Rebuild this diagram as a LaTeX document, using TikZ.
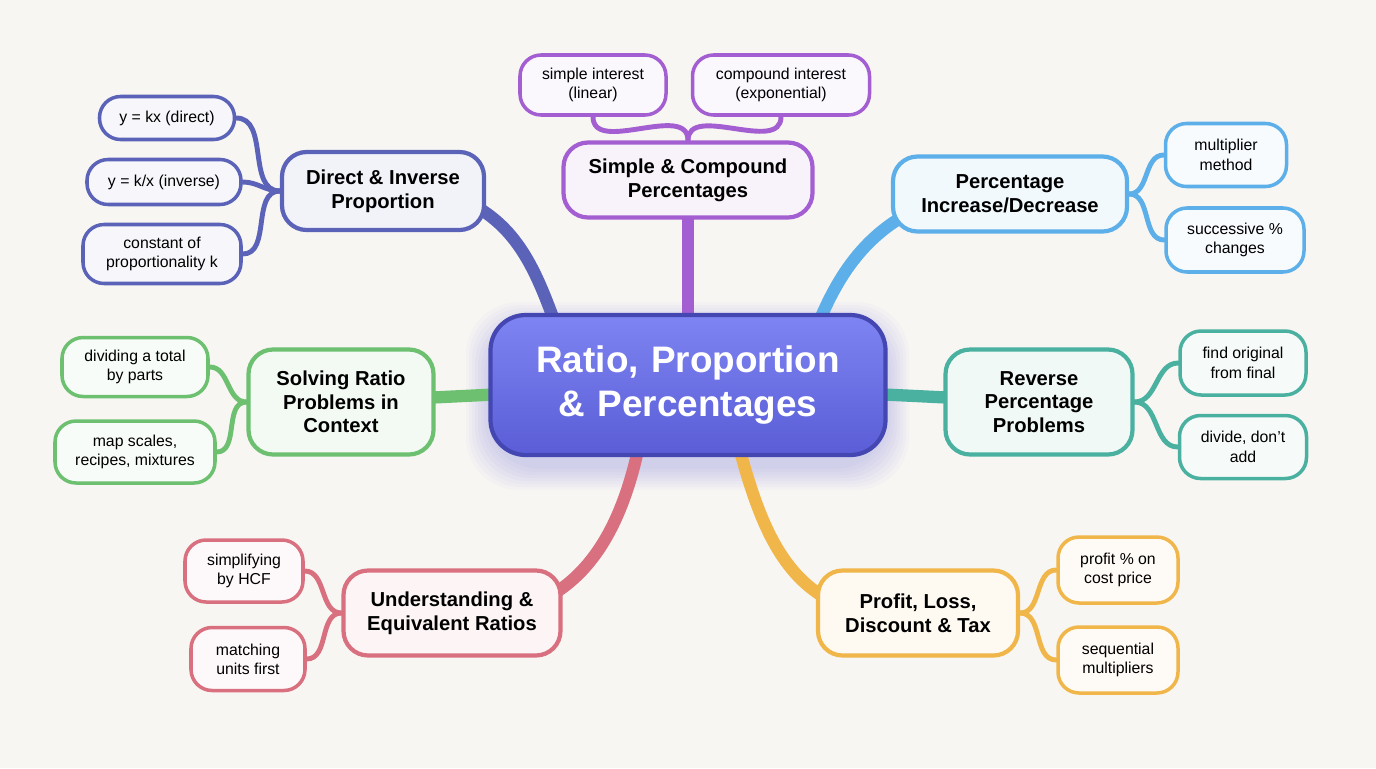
\documentclass[tikz,border=0pt]{standalone}
\usepackage{fontspec}
\setmainfont{Liberation Sans}
\usetikzlibrary{backgrounds,calc}
\definecolor{bg}{HTML}{F8F6F2}
\definecolor{cIn}{HTML}{5B63B8}
\definecolor{cPu}{HTML}{A35FD2}
\definecolor{cBl}{HTML}{5CAFE8}
\definecolor{cTe}{HTML}{4AB0A0}
\definecolor{cAm}{HTML}{F0B64A}
\definecolor{cRo}{HTML}{D9707F}
\definecolor{cGr}{HTML}{6CC070}
\definecolor{ctop}{HTML}{7E84F2}
\definecolor{cbot}{HTML}{5A5DD6}
\definecolor{cbrd}{HTML}{4447B2}
\tikzset{
 main/.style={draw=#1, fill=#1!8!white, line width=2.4pt, rounded corners=14pt, align=center, font=\bfseries\fontsize{11.5}{13.5}\selectfont, inner sep=0pt},
 leaf/.style={draw=#1, fill=#1!5!white, line width=2pt, rounded corners=12pt, align=center, font=\fontsize{9}{11}\selectfont, inner sep=0pt},
 mlink/.style={draw=#1, line width=7pt, line cap=round},
 llink/.style={draw=#1, line width=2.8pt, line cap=round},
}
\begin{document}
\begin{tikzpicture}[x=0.02cm,y=0.02cm]
\useasboundingbox (0,0) rectangle (1376,-768);
\node[draw=cbrd, line width=2.4pt, rounded corners=20pt, top color=ctop, bottom color=cbot, text width=380*0.02cm, minimum width=395*0.02cm, minimum height=140*0.02cm, align=center, text=white, font=\bfseries\fontsize{21}{25}\selectfont] (c) at (688,-385) {Ratio, Proportion\\ \& Percentages};

\node[main=cIn, minimum width=202*0.02cm, minimum height=78*0.02cm] (d) at (383,-191) {Direct \& Inverse\\Proportion};
\node[leaf=cIn, minimum width=135*0.02cm, minimum height=43*0.02cm] (d1) at (167,-118) {y = kx (direct)};
\node[leaf=cIn, minimum width=154*0.02cm, minimum height=45*0.02cm] (d2) at (164,-182) {y = k/x (inverse)};
\node[leaf=cIn, minimum width=158*0.02cm, minimum height=59*0.02cm] (d3) at (162,-254) {constant of\\proportionality k};

\node[main=cPu, minimum width=249*0.02cm, minimum height=75*0.02cm] (s) at (688,-180) {Simple \& Compound\\Percentages};
\node[leaf=cPu, minimum width=146*0.02cm, minimum height=60*0.02cm] (s1) at (593,-85) {simple interest\\(linear)};
\node[leaf=cPu, minimum width=177*0.02cm, minimum height=60*0.02cm] (s2) at (781,-85) {compound interest\\(exponential)};

\node[main=cBl, minimum width=234*0.02cm, minimum height=75*0.02cm] (p) at (1010,-194) {Percentage\\Increase/Decrease};
\node[leaf=cBl, minimum width=121*0.02cm, minimum height=63*0.02cm] (p1) at (1226,-155) {multiplier\\method};
\node[leaf=cBl, minimum width=138*0.02cm, minimum height=64*0.02cm] (p2) at (1235,-240) {successive \%\\changes};

\node[main=cTe, minimum width=187*0.02cm, minimum height=105*0.02cm] (r) at (1039,-402) {Reverse\\Percentage\\Problems};
\node[leaf=cTe, minimum width=126*0.02cm, minimum height=64*0.02cm] (r1) at (1243,-363) {find original\\from final};
\node[leaf=cTe, minimum width=127*0.02cm, minimum height=63*0.02cm] (r2) at (1243,-447) {divide, don't\\add};

\node[main=cAm, minimum width=200*0.02cm, minimum height=85*0.02cm] (f) at (918,-613) {Profit, Loss,\\Discount \& Tax};
\node[leaf=cAm, minimum width=120*0.02cm, minimum height=66*0.02cm] (f1) at (1118,-570) {profit \% on\\cost price};
\node[leaf=cAm, minimum width=120*0.02cm, minimum height=66*0.02cm] (f2) at (1118,-660) {sequential\\multipliers};

\node[main=cRo, minimum width=217*0.02cm, minimum height=85*0.02cm] (u) at (452,-613) {Understanding \&\\Equivalent Ratios};
\node[leaf=cRo, minimum width=118*0.02cm, minimum height=62*0.02cm] (u1) at (244,-571) {simplifying\\by HCF};
\node[leaf=cRo, minimum width=114*0.02cm, minimum height=63*0.02cm] (u2) at (248,-659) {matching\\units first};

\node[main=cGr, minimum width=185*0.02cm, minimum height=105*0.02cm] (g) at (341,-402) {Solving Ratio\\Problems in\\Context};
\node[leaf=cGr, minimum width=146*0.02cm, minimum height=59*0.02cm] (g1) at (135,-367) {dividing a total\\by parts};
\node[leaf=cGr, minimum width=160*0.02cm, minimum height=62*0.02cm] (g2) at (135,-452) {map scales,\\recipes, mixtures};

\begin{pgfonlayer}{background}
\fill[bg] (0,0) rectangle (1376,-768);
\foreach \i in {1,...,8}{
 \fill[cbot, opacity=0.03, rounded corners=30pt] (490-3*\i,-318+3*\i-8) rectangle (885+3*\i,-458-3*\i-8);
}
\draw[mlink=cIn] ($(c)+(-125,40)$) to[out=110,in=-20] ($(d)+(70,-5)$);
\draw[mlink=cPu] (c) -- (s);
\draw[mlink=cBl] ($(c)+(122,40)$) to[out=70,in=200] ($(p)+(-70,-5)$);
\draw[mlink=cTe] (c) -- (r);
\draw[mlink=cAm] ($(c)+(45,-40)$) to[out=-75,in=170] ($(f)+(-50,0)$);
\draw[mlink=cRo] ($(c)+(-45,-40)$) to[out=-100,in=10] ($(u)+(50,0)$);
\draw[mlink=cGr] (c) -- (g);
\draw[llink=cIn] (d) to[out=180,in=0] (d1);
\draw[llink=cIn] (d) to[out=180,in=0] (d2);
\draw[llink=cIn] (d) to[out=180,in=0] (d3);
\draw[llink=cPu] (s) to[out=90,in=-90] (s1);
\draw[llink=cPu] (s) to[out=90,in=-90] (s2);
\draw[llink=cBl] (p) to[out=0,in=180] (p1);
\draw[llink=cBl] (p) to[out=0,in=180] (p2);
\draw[llink=cTe] (r) to[out=0,in=180] (r1);
\draw[llink=cTe] (r) to[out=0,in=180] (r2);
\draw[llink=cAm] (f) to[out=0,in=180] (f1);
\draw[llink=cAm] (f) to[out=0,in=180] (f2);
\draw[llink=cRo] (u) to[out=180,in=0] (u1);
\draw[llink=cRo] (u) to[out=180,in=0] (u2);
\draw[llink=cGr] (g) to[out=180,in=0] (g1);
\draw[llink=cGr] (g) to[out=180,in=0] (g2);
\end{pgfonlayer}
\end{tikzpicture}
\end{document}
